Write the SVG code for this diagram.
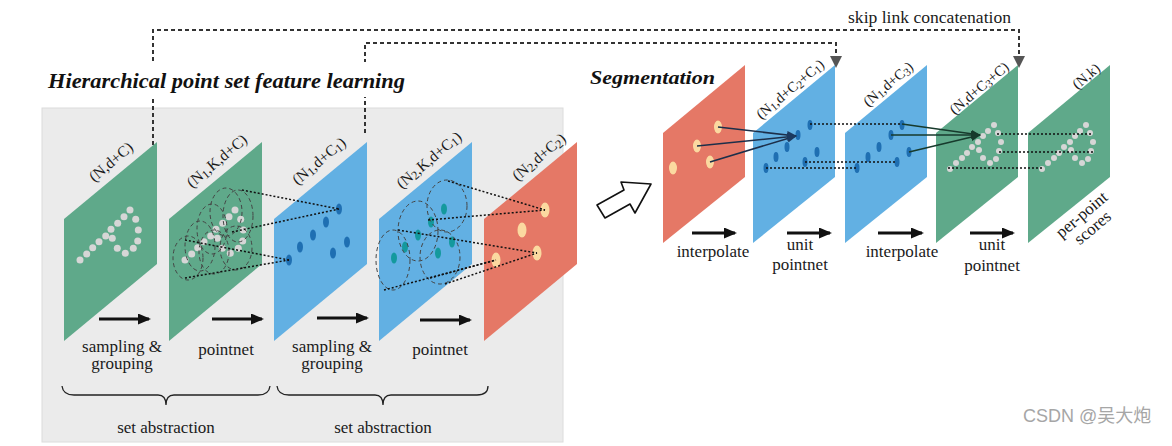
<svg xmlns="http://www.w3.org/2000/svg" width="1172" height="446" viewBox="0 0 1172 446">
<style>
.g{fill:#5fa98a}.b{fill:#62b0e3}.r{fill:#e57866}
.gd{fill:#d6d6d6}.bd{fill:#1f6fb2}.td{fill:#14999e}.yd{fill:#fbd9a0}
.lab{font-family:"Liberation Serif",serif;font-size:15.5px;fill:#1a1a1a;text-anchor:middle}
.rlab{font-family:"Liberation Serif",serif;font-size:14.5px;fill:#1a1a1a;text-anchor:middle}
.op{font-family:"Liberation Serif",serif;font-size:17px;fill:#1a1a1a;text-anchor:middle}
.ttl{font-family:"Liberation Serif",serif;font-weight:bold;font-style:italic;fill:#111}
.dot{stroke:#111;stroke-width:1.5;stroke-dasharray:2 2;fill:none}
.circ{stroke:#444;stroke-width:1;stroke-dasharray:4 3;fill:none}
.skip{stroke:#333;stroke-width:2;stroke-dasharray:4 3;fill:none}
.arr{stroke:#111;stroke-width:3;fill:none}
.sol{stroke:#1c2f4a;stroke-width:1.6;fill:none}
.solg{stroke:#173a2c;stroke-width:1.6;fill:none}
.sub{font-size:0.78em}
</style>
<defs>
<marker id="blk" markerUnits="userSpaceOnUse" markerWidth="13" markerHeight="11" refX="11" refY="5.5" orient="auto"><path d="M0,0 L13,5.5 L0,11 z" fill="#111"/></marker>
<marker id="nav" markerUnits="userSpaceOnUse" markerWidth="10" markerHeight="8" refX="9" refY="4" orient="auto"><path d="M0,0 L10,4 L0,8 z" fill="#1c3a60"/></marker>
<marker id="grn" markerUnits="userSpaceOnUse" markerWidth="10" markerHeight="8" refX="9" refY="4" orient="auto"><path d="M0,0 L10,4 L0,8 z" fill="#173a2c"/></marker>
</defs>
<rect width="1172" height="446" fill="#fff"/>
<rect x="42" y="108" width="521" height="334" fill="#ebebeb" stroke="#dcdcdc"/>

<!-- skip links -->
<g id="skip-links">
<path class="skip" d="M153,145 V30 H1019 V58"/>
<path class="skip" d="M365,133 V43 H836 V58"/>
<polygon points="830,56 842,56 836,68" fill="#555"/>
<polygon points="1013,56 1025,56 1019,68" fill="#555"/>
</g>

<g id="title">
<rect x="46" y="62" width="364" height="35" fill="#fff"/>
<text class="ttl" x="48" y="88" font-size="20" textLength="357" lengthAdjust="spacingAndGlyphs">Hierarchical point set feature learning</text>
</g>
<text class="ttl" x="590" y="84" font-size="19" textLength="125" lengthAdjust="spacingAndGlyphs">Segmentation</text>
<text x="848" y="23" font-family="Liberation Serif, serif" font-size="16" fill="#1a1a1a" textLength="163" lengthAdjust="spacingAndGlyphs">skip link concatenation</text>

<!-- left layers -->
<g id="layer-n-dc">
<polygon class="g" points="64,219 157,142 157,264 64,341"/>
<g class="gd">
<circle cx="80" cy="260" r="3.5"/><circle cx="86.7" cy="254" r="3.5"/><circle cx="92.7" cy="247.7" r="3.5"/><circle cx="99" cy="241.7" r="3.5"/><circle cx="105.7" cy="236" r="3.5"/><circle cx="111" cy="229.3" r="3.5"/><circle cx="117.7" cy="223.3" r="3.5"/><circle cx="124" cy="216.7" r="3.5"/><circle cx="130" cy="210" r="3.5"/><circle cx="135.7" cy="219.3" r="3.5"/><circle cx="138.3" cy="230" r="3.5"/><circle cx="137.7" cy="241" r="3.5"/><circle cx="133.3" cy="248.3" r="3.5"/><circle cx="125.3" cy="253.3" r="3.5"/><circle cx="117.3" cy="248.3" r="3.5"/><circle cx="112.3" cy="238.3" r="3.5"/>
</g>
<text class="lab" transform="translate(111,162) rotate(-40)" y="5">(N,d+C)</text>
</g>

<g id="layer-n1-k-dc">
<polygon class="g" points="169,219 262,142 262,264 169,341"/>
<g class="gd" transform="translate(105,0)">
<circle cx="80" cy="260" r="3.5"/><circle cx="86.7" cy="254" r="3.5"/><circle cx="92.7" cy="247.7" r="3.5"/><circle cx="99" cy="241.7" r="3.5"/><circle cx="105.7" cy="236" r="3.5"/><circle cx="111" cy="229.3" r="3.5"/><circle cx="117.7" cy="223.3" r="3.5"/><circle cx="124" cy="216.7" r="3.5"/><circle cx="130" cy="210" r="3.5"/><circle cx="135.7" cy="219.3" r="3.5"/><circle cx="138.3" cy="230" r="3.5"/><circle cx="137.7" cy="241" r="3.5"/><circle cx="133.3" cy="248.3" r="3.5"/><circle cx="125.3" cy="253.3" r="3.5"/><circle cx="117.3" cy="248.3" r="3.5"/><circle cx="112.3" cy="238.3" r="3.5"/>
</g>
<ellipse class="circ" cx="188" cy="258" rx="15" ry="22"/>
<ellipse class="circ" cx="200" cy="246" rx="15" ry="25"/>
<ellipse class="circ" cx="212" cy="229" rx="15" ry="25"/>
<ellipse class="circ" cx="226" cy="212" rx="16" ry="24"/>
<ellipse class="circ" cx="238" cy="216" rx="15" ry="26"/>
<ellipse class="circ" cx="236" cy="248" rx="16" ry="22"/>
<ellipse class="circ" cx="214" cy="252" rx="15" ry="22"/>
<text class="lab" transform="translate(217,161) rotate(-40)" y="5">(N<tspan class="sub" dy="2">1</tspan><tspan dy="-2">,K,d+C)</tspan></text>
</g>

<g id="layer-n1-dc1">
<polygon class="b" points="274,219 367,142 367,264 274,341"/>
<g class="bd">
<ellipse cx="339" cy="209" rx="3" ry="5.5"/><ellipse cx="326" cy="222" rx="3" ry="5.5"/><ellipse cx="313" cy="235" rx="3" ry="5.5"/><ellipse cx="347" cy="242" rx="3" ry="5.5"/><ellipse cx="300" cy="247" rx="3" ry="5.5"/><ellipse cx="333" cy="253" rx="3" ry="5.5"/><ellipse cx="289" cy="260" rx="3" ry="5.5"/>
</g>
<text class="lab" transform="translate(319,161) rotate(-40)" y="5">(N<tspan class="sub" dy="2">1</tspan><tspan dy="-2">,d+C</tspan><tspan class="sub" dy="2">1</tspan><tspan dy="-2">)</tspan></text>
</g>

<g id="layer-n2-k-dc1">
<polygon class="b" points="379,219 472,142 472,264 379,341"/>
<g class="td">
<ellipse cx="444" cy="209" rx="3" ry="5.5"/><ellipse cx="431" cy="222" rx="3" ry="5.5"/><ellipse cx="418" cy="235" rx="3" ry="5.5"/><ellipse cx="452" cy="242" rx="3" ry="5.5"/><ellipse cx="405" cy="247" rx="3" ry="5.5"/><ellipse cx="438" cy="253" rx="3" ry="5.5"/><ellipse cx="394" cy="258" rx="3" ry="5.5"/>
</g>
<ellipse class="circ" cx="447" cy="206" rx="20" ry="26"/>
<ellipse class="circ" cx="418" cy="231" rx="20" ry="30"/>
<ellipse class="circ" cx="393" cy="260" rx="17" ry="30"/>
<ellipse class="circ" cx="440" cy="257" rx="20" ry="27"/>
<text class="lab" transform="translate(429,160) rotate(-40)" y="5">(N<tspan class="sub" dy="2">2</tspan><tspan dy="-2">,K,d+C</tspan><tspan class="sub" dy="2">1</tspan><tspan dy="-2">)</tspan></text>
</g>

<g id="layer-n2-dc2">
<polygon class="r" points="484,219 577,142 577,264 484,341"/>
<g class="yd">
<ellipse cx="545" cy="210" rx="4.5" ry="7.5"/><ellipse cx="522" cy="230" rx="4.5" ry="7.5"/><ellipse cx="537" cy="253" rx="4.5" ry="7.5"/><ellipse cx="496" cy="260" rx="4.5" ry="7.5"/>
</g>
<text class="lab" transform="translate(539,157) rotate(-40)" y="5">(N<tspan class="sub" dy="2">2</tspan><tspan dy="-2">,d+C</tspan><tspan class="sub" dy="2">2</tspan><tspan dy="-2">)</tspan></text>
</g>

<!-- right layers -->
<g id="seg-red">
<polygon class="r" points="663,133 745,65 745,177 663,243"/>
<g class="yd">
<ellipse cx="718" cy="127" rx="4" ry="6.5"/><ellipse cx="697" cy="146" rx="4" ry="6.5"/><ellipse cx="710" cy="162" rx="4" ry="6.5"/><ellipse cx="673" cy="168" rx="4" ry="6.5"/>
</g>
</g>
<g id="seg-n1-dc2c1">
<polygon class="b" points="753,133 835,65 835,177 753,243"/>
<g class="bd">
<ellipse cx="810" cy="125" rx="2.5" ry="5"/><ellipse cx="798" cy="135" rx="2.5" ry="5"/><ellipse cx="787" cy="147" rx="2.5" ry="5"/><ellipse cx="817" cy="152" rx="2.5" ry="5"/><ellipse cx="776" cy="157" rx="2.5" ry="5"/><ellipse cx="805" cy="162" rx="2.5" ry="5"/><ellipse cx="766" cy="168" rx="2.5" ry="5"/>
</g>
<text class="rlab" transform="translate(790,89) rotate(-40)" y="5">(N<tspan class="sub" dy="2">1</tspan><tspan dy="-2">,d+C</tspan><tspan class="sub" dy="2">2</tspan><tspan dy="-2">+C</tspan><tspan class="sub" dy="2">1</tspan><tspan dy="-2">)</tspan></text>
</g>
<g id="seg-n1-dc3">
<polygon class="b" points="845,133 927,65 927,177 845,243"/>
<g class="bd">
<ellipse cx="902" cy="125" rx="2.5" ry="5"/><ellipse cx="891" cy="135" rx="2.5" ry="5"/><ellipse cx="879" cy="147" rx="2.5" ry="5"/><ellipse cx="909" cy="152" rx="2.5" ry="5"/><ellipse cx="868" cy="157" rx="2.5" ry="5"/><ellipse cx="897" cy="162" rx="2.5" ry="5"/><ellipse cx="857" cy="168" rx="2.5" ry="5"/>
</g>
<text class="rlab" transform="translate(888,84) rotate(-40)" y="5">(N<tspan class="sub" dy="2">1</tspan><tspan dy="-2">,d+C</tspan><tspan class="sub" dy="2">3</tspan><tspan dy="-2">)</tspan></text>
</g>
<g id="seg-n-dc3c">
<polygon class="g" points="936,133 1018,65 1018,177 936,243"/>
<g class="gd">
<circle cx="950" cy="169" r="3"/><circle cx="956" cy="163" r="3"/><circle cx="962" cy="158" r="3"/><circle cx="967" cy="153" r="3"/><circle cx="972" cy="147" r="3"/><circle cx="978" cy="142" r="3"/><circle cx="983" cy="136" r="3"/><circle cx="988" cy="131" r="3"/><circle cx="994" cy="125" r="3"/><circle cx="998" cy="133" r="3"/><circle cx="1001" cy="142" r="3"/><circle cx="999" cy="151" r="3"/><circle cx="996" cy="159" r="3"/><circle cx="990" cy="163" r="3"/><circle cx="983" cy="158" r="3"/><circle cx="979" cy="150" r="3"/>
</g>
<text class="rlab" transform="translate(979,88) rotate(-40)" y="5">(N,d+C<tspan class="sub" dy="2">3</tspan><tspan dy="-2">+C)</tspan></text>
</g>
<g id="seg-n-k">
<polygon class="g" points="1028,133 1110,65 1110,177 1028,243"/>
<g class="gd" transform="translate(92,0)">
<circle cx="950" cy="169" r="3"/><circle cx="956" cy="163" r="3"/><circle cx="962" cy="158" r="3"/><circle cx="967" cy="153" r="3"/><circle cx="972" cy="147" r="3"/><circle cx="978" cy="142" r="3"/><circle cx="983" cy="136" r="3"/><circle cx="988" cy="131" r="3"/><circle cx="994" cy="125" r="3"/><circle cx="998" cy="133" r="3"/><circle cx="1001" cy="142" r="3"/><circle cx="999" cy="151" r="3"/><circle cx="996" cy="159" r="3"/><circle cx="990" cy="163" r="3"/><circle cx="983" cy="158" r="3"/><circle cx="979" cy="150" r="3"/>
</g>
<text class="rlab" transform="translate(1086,76) rotate(-40)" y="5">(N,k)</text>
<text class="op" transform="translate(1082,215) rotate(-40)" y="5">per-point</text>
<text class="op" transform="translate(1082,215) rotate(-40)" y="22">scores</text>
</g>

<!-- connectors -->
<g id="connectors">
<line class="dot" x1="242" y1="190" x2="339" y2="209"/>
<line class="dot" x1="232" y1="232" x2="339" y2="209"/>
<line class="dot" x1="185" y1="240" x2="289" y2="260"/>
<line class="dot" x1="185" y1="278" x2="289" y2="260"/>
<line class="dot" x1="448" y1="181" x2="545" y2="210"/>
<line class="dot" x1="428" y1="220" x2="545" y2="210"/>
<line class="dot" x1="398" y1="230" x2="537" y2="253"/>
<line class="dot" x1="445" y1="284" x2="537" y2="253"/>
<line class="dot" x1="384" y1="290" x2="496" y2="260"/>
<line class="dot" x1="430" y1="278" x2="496" y2="260"/>
<line class="sol" x1="718" y1="127" x2="796" y2="136" marker-end="url(#nav)"/>
<line class="sol" x1="697" y1="146" x2="796" y2="136" marker-end="url(#nav)"/>
<line class="sol" x1="710" y1="162" x2="796" y2="136" marker-end="url(#nav)"/>
<line class="dot" x1="810" y1="124" x2="902" y2="124"/>
<line class="dot" x1="805" y1="162" x2="897" y2="162"/>
<line class="dot" x1="766" y1="168" x2="857" y2="168"/>
<line class="solg" x1="902" y1="124" x2="980" y2="135" marker-end="url(#grn)"/>
<line class="solg" x1="891" y1="135" x2="980" y2="135" marker-end="url(#grn)"/>
<line class="solg" x1="909" y1="152" x2="980" y2="135" marker-end="url(#grn)"/>
<line class="dot" x1="997" y1="134" x2="1092" y2="134"/>
<line class="dot" x1="999" y1="152" x2="1093" y2="152"/>
<line class="dot" x1="948" y1="168" x2="1043" y2="168"/>
<line class="arr" x1="99" y1="319" x2="149" y2="319" marker-end="url(#blk)"/>
<line class="arr" x1="212" y1="319" x2="262" y2="319" marker-end="url(#blk)"/>
<line class="arr" x1="317" y1="318" x2="367" y2="318" marker-end="url(#blk)"/>
<line class="arr" x1="420" y1="320" x2="470" y2="320" marker-end="url(#blk)"/>
<line class="arr" x1="692" y1="233" x2="735" y2="233" marker-end="url(#blk)"/>
<line class="arr" x1="787" y1="233" x2="830" y2="233" marker-end="url(#blk)"/>
<line class="arr" x1="878" y1="233" x2="922" y2="233" marker-end="url(#blk)"/>
<line class="arr" x1="970" y1="233" x2="1013" y2="233" marker-end="url(#blk)"/>
<polygon points="651,184 621,182 624,190 597,205 605,218 630,204 635,213" fill="#fff" stroke="#111" stroke-width="1.6" stroke-linejoin="round"/>
<path d="M62,386 Q63,395 74,395 L158,395 Q166,395 166,405 Q166,395 174,395 L258,395 Q269,395 270,386" fill="none" stroke="#222" stroke-width="1.3"/>
<path d="M277,386 Q278,395 289,395 L375,395 Q383,395 383,405 Q383,395 391,395 L477,395 Q488,395 488,386" fill="none" stroke="#222" stroke-width="1.3"/>
</g>

<!-- operation labels -->
<g id="op-labels">
<text class="op" x="122" y="352">sampling &amp;</text>
<text class="op" x="122" y="369">grouping</text>
<text class="op" x="226" y="355">pointnet</text>
<text class="op" x="332" y="352">sampling &amp;</text>
<text class="op" x="332" y="369">grouping</text>
<text class="op" x="440" y="355">pointnet</text>
<text class="op" x="166" y="433" font-size="18">set abstraction</text>
<text class="op" x="383" y="433" font-size="18">set abstraction</text>
<text class="op" x="713" y="257">interpolate</text>
<text class="op" x="800" y="250">unit</text>
<text class="op" x="800" y="270">pointnet</text>
<text class="op" x="902" y="257">interpolate</text>
<text class="op" x="992" y="250">unit</text>
<text class="op" x="992" y="271">pointnet</text>
</g>
<text x="1023" y="422" font-family="Liberation Sans, 'Noto Sans CJK SC', sans-serif" font-size="18" fill="#a6a6a6">CSDN @吴大炮</text>
</svg>
